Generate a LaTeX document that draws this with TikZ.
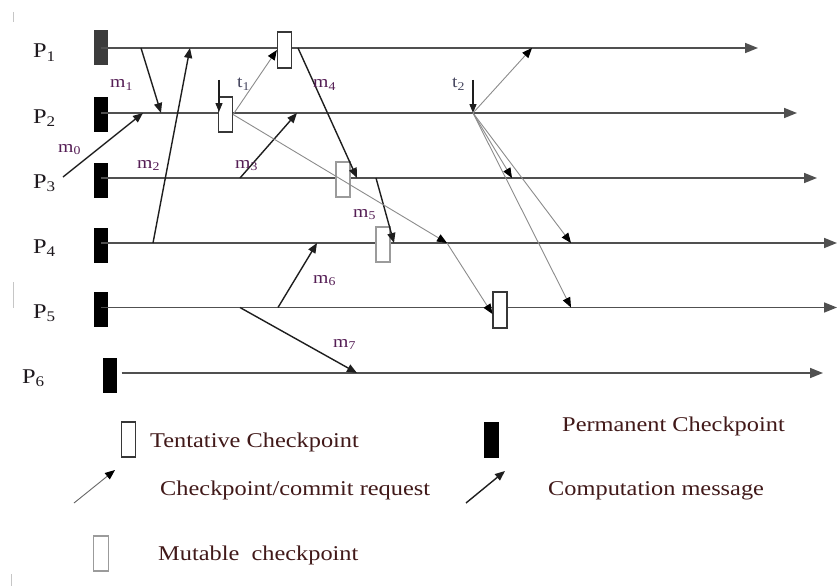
\documentclass[tikz,border=0pt]{standalone}
\usepackage{fontspec}
\setmainfont{Liberation Serif}[FakeStretch=1.16]
\usetikzlibrary{arrows.meta}

\definecolor{procline}{RGB}{80,80,80}
\definecolor{msgline}{RGB}{30,30,30}
\definecolor{reqline}{RGB}{140,140,140}
\definecolor{mutedge}{RGB}{155,155,155}
\definecolor{tentedge}{RGB}{55,55,55}
\definecolor{msglabel}{RGB}{85,30,85}
\definecolor{reqlabel}{RGB}{70,70,95}
\definecolor{legtext}{RGB}{65,25,25}
\definecolor{plabel}{RGB}{30,25,30}
\definecolor{firstcp}{RGB}{60,60,60}

\tikzset{
  process/.style={draw=procline, line width=1.6pt, -{Triangle[length=13pt,width=10pt]}},
  compmsg/.style={draw=msgline, line width=1.4pt, -{Triangle[length=10pt,width=8pt]}},
  request/.style={draw=reqline, line width=0.9pt, -{Triangle[length=10pt,width=8pt,color=black]}},
  initreq/.style={draw=msgline, line width=1.3pt, -{Triangle[length=9pt,width=7pt]}},
  permcp/.style={draw=none, fill=black, minimum width=14pt, minimum height=35pt, inner sep=0pt},
  tentcp/.style={draw=tentedge, fill=white, line width=1.2pt, minimum width=14pt, minimum height=35pt, inner sep=0pt},
  mutcp/.style={draw=mutedge, fill=white, line width=1.2pt, minimum width=14pt, minimum height=35pt, inner sep=0pt},
  plbl/.style={font=\fontsize{21}{21}\selectfont, text=plabel, inner sep=0pt, anchor=base west},
  mlbl/.style={font=\fontsize{17}{17}\selectfont, text=msglabel, inner sep=0pt, anchor=base west},
  tlbl/.style={font=\fontsize{17}{17}\selectfont, text=reqlabel, inner sep=0pt, anchor=base west},
  legtxt/.style={font=\fontsize{21}{21}\selectfont, text=legtext, inner sep=0pt, anchor=base west},
  speck/.style={draw=gray!45, line width=1pt},
}

\begin{document}
\begin{tikzpicture}[x=1pt,y=-1pt]
\useasboundingbox (0,0) rectangle (838,586);
\fill[white] (0,0) rectangle (838,586);

% process labels
\node[plbl] (lp1) at (33,58) {P\textsubscript{1}};
\node[plbl] (lp2) at (33,123) {P\textsubscript{2}};
\node[plbl] (lp3) at (33,188) {P\textsubscript{3}};
\node[plbl] (lp4) at (33,253) {P\textsubscript{4}};
\node[plbl] (lp5) at (33,318) {P\textsubscript{5}};
\node[plbl] (lp6) at (22,383) {P\textsubscript{6}};

% permanent checkpoints at the start of each process
\node[permcp, fill=firstcp] (perm1) at (101,48) {};
\node[permcp] (perm2) at (101,114) {};
\node[permcp] (perm3) at (101,180) {};
\node[permcp] (perm4) at (101,245) {};
\node[permcp] (perm5) at (101,309.5) {};
\node[permcp] (perm6) at (109.5,375) {};

% process time lines
\coordinate (end1) at (758,48);
\coordinate (end2) at (797,113);
\coordinate (end3) at (817,178);
\coordinate (end4) at (837,243);
\coordinate (end5) at (837,307.5);
\coordinate (end6) at (823,373);
\draw[process] (perm1.center) -- (end1);
\draw[process] (perm2.center |- end2) -- (end2);
\draw[process] (perm3.center |- end3) -- (end3);
\draw[process] (perm4.center |- end4) -- (end4);
\draw[process] (perm5.center |- end5) -- (end5);
\draw[process] ([xshift=5pt]perm6.east |- end6) -- (end6);

% tentative and mutable checkpoints
\node[tentcp, minimum height=36pt] (tent1) at (284.5,50) {};
\node[tentcp] (tent2) at (225.5,114.5) {};
\node[mutcp] (mut3) at (343,179.5) {};
\node[mutcp] (mut4) at (383,244.5) {};
\node[tentcp, minimum height=36pt] (tent5) at (500,310) {};

% computation messages
\coordinate (m0s) at (63,177);   \coordinate (m0e) at (143,113);
\coordinate (m1s) at (141,48);   \coordinate (m1e) at (161,113);
\coordinate (m2s) at (153,243);  \coordinate (m2e) at (190,48);
\coordinate (m3s) at (240,178);  \coordinate (m3e) at (297,113);
\coordinate (m4s) at (298,48);   \coordinate (m4e) at (357,178);
\coordinate (m5s) at (376,178);  \coordinate (m5e) at (394,243);
\coordinate (m6s) at (278,307.5);\coordinate (m6e) at (317,243);
\coordinate (m7s) at (240,307.5);\coordinate (m7e) at (357,373);
\draw[compmsg] (m0s) -- (m0e);
\draw[compmsg] (m1s) -- (m1e);
\draw[compmsg] (m2s) -- (m2e);
\draw[compmsg] (m3s) -- (m3e);
\draw[compmsg] (m4s) -- (m4e);
\draw[compmsg] (m5s) -- (m5e);
\draw[compmsg] (m6s) -- (m6e);
\draw[compmsg] (m7s) -- (m7e);

% checkpoint initiations and requests
\coordinate (t1s) at (219,80);   \coordinate (t1e) at (219,112);
\coordinate (t2s) at (473,80);   \coordinate (t2e) at (473,113);
\coordinate (fork) at (447,243);
\coordinate (r4e) at (532,48);
\coordinate (r5e) at (512,178);
\coordinate (r6e) at (571,243);
\coordinate (r7e) at (571,307.5);
\draw[initreq] (t1s) -- (t1e);
\draw[initreq] (t2s) -- (t2e);
\draw[request] (tent2.east) -- (tent1.west);
\draw[request] (tent2.east) -- (fork);
\draw[request] (fork) -- ([yshift=-4pt]tent5.west);
\draw[request] (t2e) -- (r4e);
\draw[request] (t2e) -- (r5e);
\draw[request] (t2e) -- (r6e);
\draw[request] (t2e) -- (r7e);

% message labels
\node[mlbl] (lm0) at (58,152) {m\textsubscript{0}};
\node[mlbl] (lm1) at (110,88) {m\textsubscript{1}};
\node[mlbl] (lm2) at (137,168) {m\textsubscript{2}};
\node[mlbl] (lm3) at (235,168) {m\textsubscript{3}};
\node[mlbl] (lm4) at (313,88) {m\textsubscript{4}};
\node[mlbl] (lm5) at (353,217) {m\textsubscript{5}};
\node[mlbl] (lm6) at (313,283) {m\textsubscript{6}};
\node[mlbl] (lm7) at (333,347) {m\textsubscript{7}};
\node[tlbl] (lt1) at (237,88) {t\textsubscript{1}};
\node[tlbl] (lt2) at (452,88) {t\textsubscript{2}};

% legend
\node[tentcp] (legtent) at (128.5,439.5) {};
\node[legtxt] (legtenttxt) at (150,447) {Tentative Checkpoint};
\node[permcp, minimum width=15pt, minimum height=36pt] (legperm) at (491.5,440) {};
\node[legtxt] (legpermtxt) at (562,431) {Permanent Checkpoint};
\coordinate (legreqs) at (74,503);  \coordinate (legreqe) at (115,470);
\draw[request, draw=gray!80!black] (legreqs) -- (legreqe);
\node[legtxt] (legreqtxt) at (160,495) {Checkpoint/commit request};
\coordinate (legmsgs) at (466,503); \coordinate (legmsge) at (505,471);
\draw[compmsg] (legmsgs) -- (legmsge);
\node[legtxt] (legmsgtxt) at (548,495) {Computation message};
\node[mutcp, minimum width=15pt] (legmut) at (101,553.5) {};
\node[legtxt] (legmuttxt) at (158,560) {Mutable\ \ checkpoint};

% specks along the left margin
\draw[speck] (13,12) -- (13,22);
\draw[speck] (13,282) -- (13,308);
\draw[speck] (11,574) -- (11,586);
\end{tikzpicture}
\end{document}
